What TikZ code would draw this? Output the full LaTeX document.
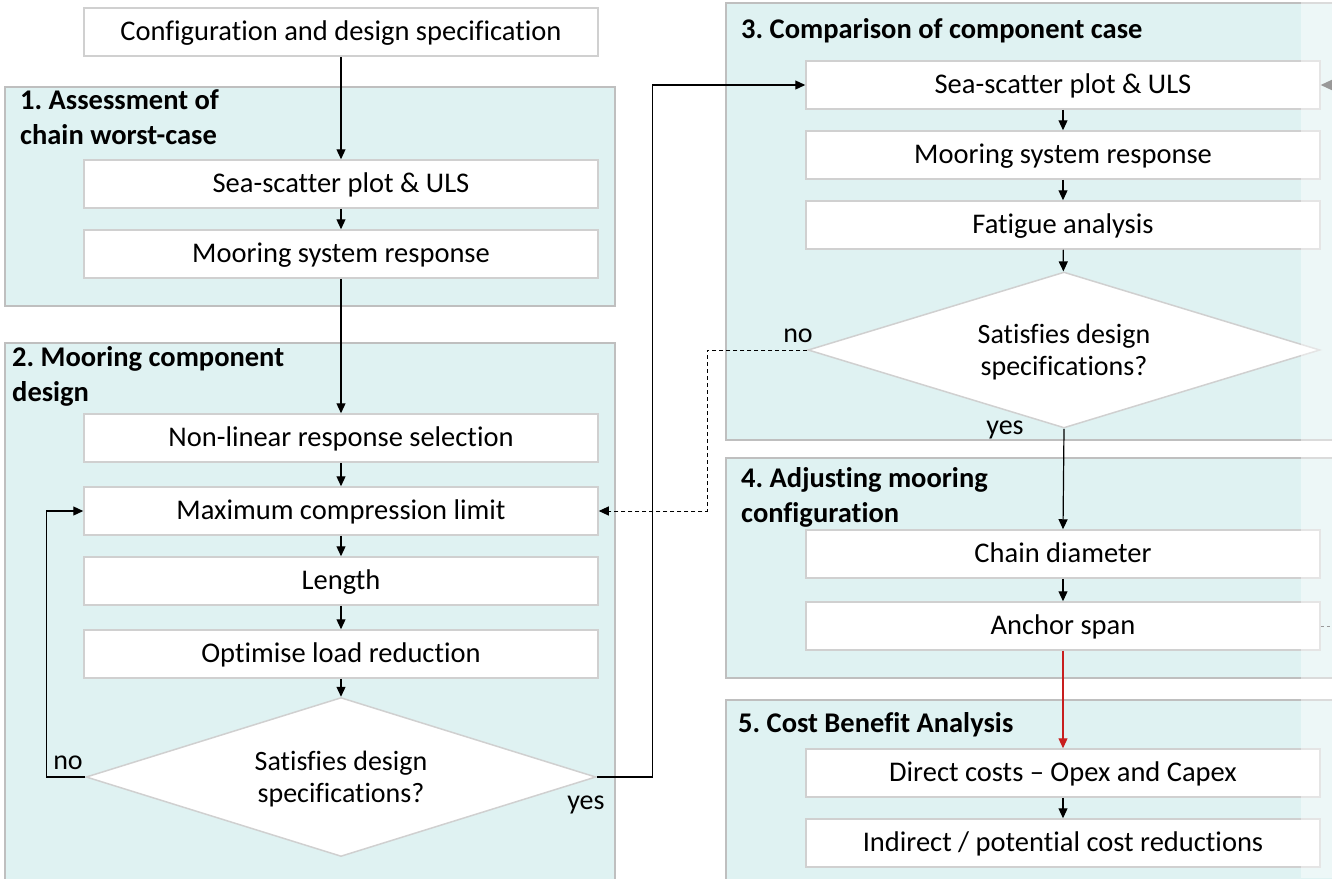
\documentclass[tikz,border=0pt]{standalone}
\usepackage{fontspec}
\setmainfont{Carlito}[Ligatures=NoCommon]
\usetikzlibrary{shapes.geometric,arrows.meta}
\definecolor{panelfill}{HTML}{DFF2F2}
\definecolor{panelline}{HTML}{BFBFBF}
\definecolor{boxline}{HTML}{D0D0D0}
\definecolor{tipgray}{HTML}{999999}
\frenchspacing
\begin{document}
\begin{tikzpicture}[x=1pt,y=-1pt,
 panel/.style={draw=panelline, line width=1.5pt, fill=panelfill},
 stepbox/.style={draw=boxline, line width=1.5pt, fill=white, minimum width=514pt, minimum height=48pt, inner sep=0pt, text height=21pt, text depth=5pt, font=\fontsize{28.5}{34}\selectfont},
 decision/.style={diamond, draw=boxline, line width=1.5pt, fill=white, inner sep=0pt, aspect=3.2, align=center, text depth=0pt, font=\fontsize{28}{32}\selectfont},
 title/.style={anchor=north west, inner sep=0pt, align=left, font=\bfseries\fontsize{28.5}{35.5}\selectfont},
 arr/.style={-{Triangle[width=9pt,length=10pt]}, line width=1.2pt},
 lab/.style={font=\fontsize{28}{32}\selectfont, inner sep=0pt}]
\useasboundingbox (0,0) rectangle (1332,878);
\fill[white] (0,0) rectangle (1332,878);
% panels
\path[panel] (5,87) rectangle (615,306);
\path[panel] (5,343) rectangle (615,895);
\path[panel] (726,3) rectangle (1345,440);
\path[panel] (726,458) rectangle (1345,678);
\path[panel] (726,700) rectangle (1345,895);
% titles
\node[title] (t1) at (20,89) {1. Assessment of\\chain worst-case};
\node[title] (t2) at (12,346) {2. Mooring component\\design};
\node[title] (t3) at (741,18) {3. Comparison of component case};
\node[title] (t4) at (741,467) {4. Adjusting mooring\\configuration};
\node[title] (t5) at (738,712) {5. Cost Benefit Analysis};
% left column
\node[stepbox] (cfg) at (341,32) {Configuration and design specification};
\node[stepbox] (s1) at (341,184) {Sea-scatter plot \& ULS};
\node[stepbox] (m1) at (341,254) {Mooring system response};
\node[stepbox] (nl) at (341,438) {Non-linear response selection};
\node[stepbox] (mc) at (341,511) {Maximum compression limit};
\node[stepbox] (len) at (341,581) {Length};
\node[stepbox] (opt) at (341,654) {Optimise load reduction};
\node[decision, minimum width=510pt, minimum height=159pt] (d1) at (341,777) {Satisfies design\\specifications?};
% right column
\node[stepbox] (s3) at (1063,85) {Sea-scatter plot \& ULS};
\node[stepbox] (m3) at (1063,155) {Mooring system response};
\node[stepbox] (fat) at (1063,225) {Fatigue analysis};
\node[decision, minimum width=512pt, minimum height=156pt] (d2) at (1064,350) {Satisfies design\\specifications?};
\node[stepbox] (cd) at (1063,554) {Chain diameter};
\node[stepbox] (as) at (1063,626) {Anchor span};
\node[stepbox] (dc) at (1063,773) {Direct costs -- Opex and Capex};
\node[stepbox] (ic) at (1063,843) {Indirect / potential cost reductions};
% pale strip at right edge
\fill[white, opacity=0.45] (1301,0) rectangle (1332,878);
% labels
\node[lab] (no1) at (68,763) {no};
\node[lab] (yes1) at (586,805) {yes};
\node[lab] (no2) at (798,336) {no};
\node[lab] (yes2) at (1005,430) {yes};
% connectors
\draw[arr] (cfg) -- (s1);
\draw[arr] (s1) -- (m1);
\draw[arr] (m1) -- (nl);
\draw[arr] (nl) -- (mc);
\draw[arr] (mc) -- (len);
\draw[arr] (len) -- (opt);
\draw[arr] (opt) -- (d1);
\draw[arr] (d1.west) -- ++(-39,0) |- (mc.west);
\draw[arr] (d1.east) -- ++(56,0) |- (s3.west);
\draw[arr] (s3) -- (m3);
\draw[arr] (m3) -- (fat);
\draw[arr] (fat) -- (d2);
\draw[arr, line width=1pt, dash pattern=on 4pt off 3pt] (d2.west) -- ++(-100,0) |- (mc.east);
\draw[arr] (d2.south) -- (cd.north);
\draw[arr] (cd) -- (as);
\draw[arr, draw={rgb,255:red,200;green,30;blue,30}, fill={rgb,255:red,200;green,30;blue,30}] (as) -- (dc);
\draw[arr] (dc) -- (ic);
\coordinate (gin) at (1345,85);
\draw[-{Triangle[width=10pt,length=11pt]}, draw=tipgray, fill=tipgray, line width=1.2pt] (gin) -- (s3.east);
\coordinate (gout) at (1334,626);
\draw[draw=tipgray, dashed, line width=1pt] (as.east) -- (gout);
\end{tikzpicture}
\end{document}
